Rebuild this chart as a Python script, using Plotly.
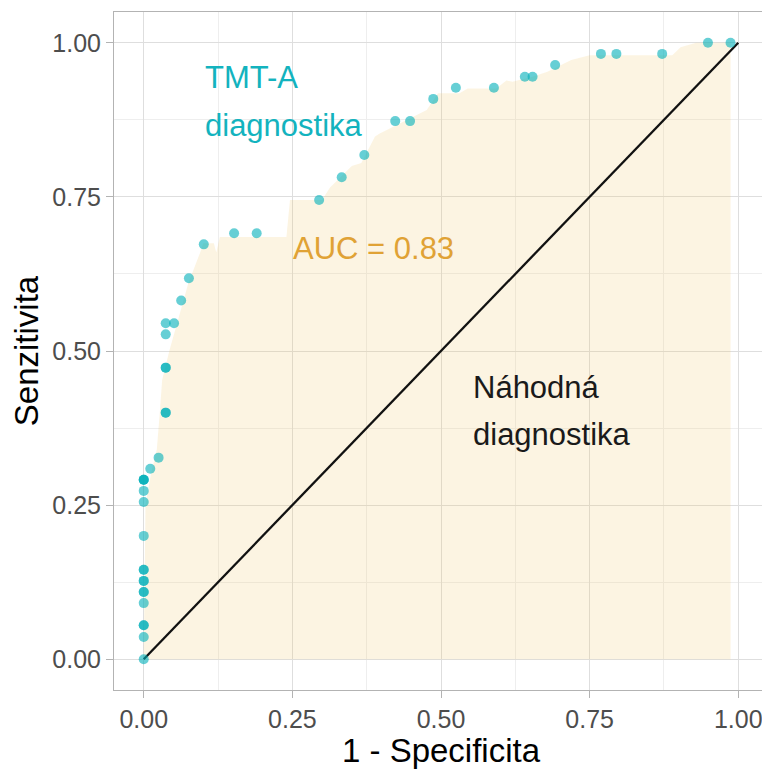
import plotly.graph_objects as go

# ROC body points (1 - specificity, sensitivity)
fpr = [0, 0, 0, 0, 0, 0, 0, 0, 0, 0, 0, 0, 0, 0, 0, 0, 0,
       0.011, 0.025, 0.037, 0.037, 0.037, 0.037, 0.037, 0.037, 0.051, 0.063, 0.076,
       0.101, 0.152, 0.19, 0.295, 0.333, 0.371, 0.423, 0.448, 0.487, 0.525,
       0.589, 0.641, 0.654, 0.692, 0.769, 0.795, 0.872, 0.949, 0.987]
tpr = [0, 0.036, 0.055, 0.055, 0.091, 0.109, 0.109, 0.127, 0.127, 0.145, 0.145, 0.2, 0.255, 0.273, 0.291, 0.291, 0.291,
       0.309, 0.327, 0.4, 0.4, 0.473, 0.473, 0.527, 0.545, 0.545, 0.582, 0.618,
       0.673, 0.691, 0.691, 0.745, 0.782, 0.818, 0.873, 0.873, 0.909, 0.927,
       0.927, 0.945, 0.945, 0.964, 0.982, 0.982, 0.982, 1.0, 1.0]

# shaded area under the curve
area_x = [0, 0.003, 0.012, 0.022, 0.027, 0.031, 0.043, 0.06, 0.075, 0.095, 0.1, 0.118, 0.122,
          0.128, 0.24, 0.246, 0.30, 0.313, 0.35, 0.366, 0.389, 0.397, 0.459, 0.476, 0.495,
          0.531, 0.545, 0.593, 0.61, 0.62, 0.654, 0.679, 0.719, 0.75, 0.889, 0.903, 0.929,
          0.987, 0.987]
area_y = [0, 0.25, 0.30, 0.34, 0.40, 0.453, 0.50, 0.56, 0.61, 0.66, 0.675, 0.675, 0.66,
          0.685, 0.685, 0.745, 0.745, 0.765, 0.80, 0.805, 0.848, 0.853, 0.883, 0.891, 0.918,
          0.918, 0.926, 0.926, 0.939, 0.937, 0.945, 0.953, 0.972, 0.98, 0.98, 0.993, 1.0,
          1.0, 0]

diag = [0, 1]
ticks = [0, 0.25, 0.5, 0.75, 1]
tick_labels = ["0.00", "0.25", "0.50", "0.75", "1.00"]
minor_ticks = [0.125, 0.375, 0.625, 0.875]

font = "Liberation Sans, Arial, sans-serif"
teal = "#13B3BE"
gold = "#E0A235"

fig = go.Figure()

fig.add_trace(go.Scatter(
    x=area_x, y=area_y,
    mode="lines", line=dict(width=0),
    fill="toself", fillcolor="rgba(240,200,110,0.2)",
    hoverinfo="skip"
))

fig.add_trace(go.Scatter(
    x=diag, y=diag,
    mode="lines", line=dict(color="#111111", width=2.3)
))

fig.add_trace(go.Scatter(
    x=fpr, y=tpr,
    mode="markers",
    marker=dict(color="rgba(0,175,185,0.6)", size=10, line=dict(width=0))
))

fig.add_annotation(x=0.1, y=0.943, text="TMT-A", xanchor="left", yanchor="middle",
                   showarrow=False, font=dict(family=font, size=31, color=teal))
fig.add_annotation(x=0.1, y=0.866, text="diagnostika", xanchor="left", yanchor="middle",
                   showarrow=False, font=dict(family=font, size=31, color=teal))
fig.add_annotation(x=0.248, y=0.667, text="AUC = 0.83", xanchor="left", yanchor="middle",
                   showarrow=False, font=dict(family=font, size=31, color=gold))
fig.add_annotation(x=0.55, y=0.44, text="Náhodná", xanchor="left", yanchor="middle",
                   showarrow=False, font=dict(family=font, size=31, color="#1a1a1a"))
fig.add_annotation(x=0.55, y=0.364, text="diagnostika", xanchor="left", yanchor="middle",
                   showarrow=False, font=dict(family=font, size=31, color="#1a1a1a"))

axis_style = dict(
    range=[-0.05, 1.05],
    automargin=False,
    tickvals=ticks, ticktext=tick_labels,
    tickfont=dict(family=font, size=25, color="#4d4d4d"),
    ticks="outside", ticklen=7, tickcolor="#b3b3b3", tickwidth=1,
    showgrid=True, gridcolor="#dedede", gridwidth=1,
    minor=dict(tickvals=minor_ticks, showgrid=True, gridcolor="#eeeeee", gridwidth=1, ticks=""),
    showline=True, mirror=True, linecolor="#b3b3b3", linewidth=1,
    zeroline=False,
)

# page body adds an 8px offset, so the figure is a little smaller than the window
fig.update_layout(
    width=762, height=761,
    margin=dict(l=106, r=2, t=4, b=79),
    paper_bgcolor="white", plot_bgcolor="white",
    showlegend=False,
    xaxis=dict(axis_style, title=dict(text="1 - Specificita",
                                      font=dict(family=font, size=33, color="black"), standoff=4)),
    yaxis=dict(axis_style, title=dict(text="Senzitivita",
                                      font=dict(family=font, size=33, color="black"), standoff=8)),
)

fig.write_html("out.html")
